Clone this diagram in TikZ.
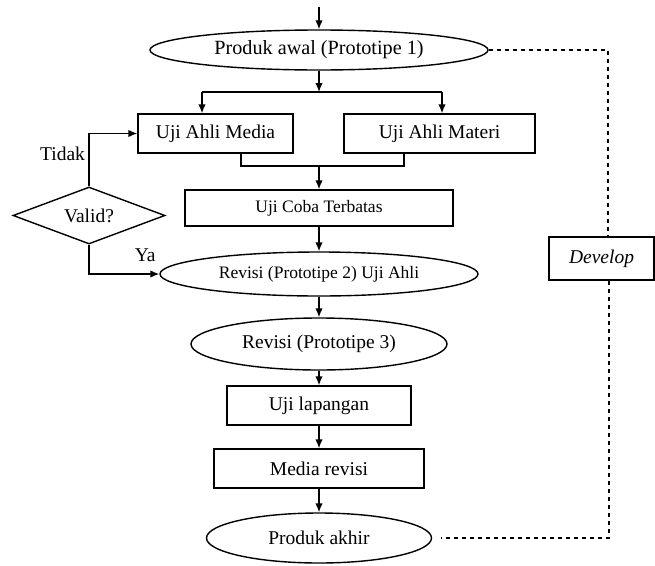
\documentclass[tikz,border=0pt]{standalone}
\usepackage{fontspec}
\setmainfont{Liberation Serif}
\usepackage{tikz}
\usetikzlibrary{calc}
\usetikzlibrary{shapes.geometric,arrows.meta}

\begin{document}
\begin{tikzpicture}[x=1pt,y=-1pt,
        font=\fontsize{19.5}{23}\selectfont,
        kotak/.style={draw, line width=1.4pt, inner sep=0pt},
        elips/.style={draw, ellipse, line width=1.4pt, inner sep=0pt},
        belah/.style={draw, diamond, line width=1.4pt, inner sep=0pt},
        panah/.style={line width=1.4pt, -{Latex[length=9pt,width=7.5pt]}},
        putus/.style={line width=1.4pt, dash pattern=on 4.5pt off 3.5pt}]
        \useasboundingbox (0,0) rectangle (655,565);
        %KOORDINAT
        \coordinate (mulai) at (319,7);
        \coordinate (cabang) at (319,92);
        \coordinate (cabangL) at (202,92);
        \coordinate (cabangR) at (442,92);
        \coordinate (gabungL) at (241,166);
        \coordinate (gabungR) at (404,166);
        \coordinate (gabung) at (319,166);
        \coordinate (putusA) at (608,50);
        \coordinate (putusB) at (609,538);
        %NODE
        \node[elips, minimum width=338pt, minimum height=40pt, font=\fontsize{20.2}{24}\selectfont] (awal) at (319,50) {Produk awal (Prototipe 1)};
        \node[kotak, minimum width=155pt, minimum height=39pt] (media) at (215.5,133.5) {Uji Ahli Media};
        \node[kotak, minimum width=191pt, minimum height=39pt] (materi) at (439.5,133.5) {Uji Ahli Materi};
        \node[kotak, minimum width=268pt, minimum height=36pt, font=\fontsize{17.5}{21}\selectfont] (coba) at (319,208) {Uji Coba Terbatas};
        \node[belah, minimum width=152pt, minimum height=57pt, shape aspect=2.6] (valid) at (89,215.5) {Valid?};
        \node[elips, minimum width=318pt, minimum height=44pt, font=\fontsize{17.5}{21}\selectfont] (rev2) at (319,274) {Revisi (Prototipe 2) Uji Ahli};
        \node[elips, minimum width=256pt, minimum height=52pt] (rev3) at (319,344) {Revisi (Prototipe 3)};
        \node[kotak, minimum width=184pt, minimum height=39pt] (lapangan) at (319,405.5) {Uji lapangan};
        \node[kotak, minimum width=210pt, minimum height=39pt] (revisi) at (319,468.5) {Media revisi};
        \node[elips, minimum width=225pt, minimum height=50pt] (akhir) at (319,538) {Produk akhir};
        \node[kotak, minimum width=105pt, minimum height=43pt] (develop) at (601.5,258.5) {\textit{Develop}};
        %PANAH
        \draw[panah] (mulai) -- (awal);
        \draw[panah] (awal) -- (cabang);
        \draw[line width=1.4pt] (cabangL) -- (cabangR);
        \draw[panah] (cabangL) -- (cabangL |- media.north);
        \draw[panah] (cabangR) -- (cabangR |- materi.north);
        \draw[line width=1.4pt] (gabungL |- media.south) -- (gabungL) -- (gabungR) -- (gabungR |- materi.south);
        \draw[panah] (gabung) -- (coba);
        \draw[panah] (valid.north) |- node[pos=0.31, left]{Tidak} (media.west);
        \draw[panah] (valid.south) |- node[pos=0.9, above=8pt]{Ya} (rev2.west);
        \draw[panah] (coba) -- (rev2);
        \draw[panah] (rev2) -- (rev3);
        \draw[panah] (rev3) -- (lapangan);
        \draw[panah] (lapangan) -- (revisi);
        \draw[panah] (revisi) -- (akhir);
        %GARIS PUTUS
        \draw[putus] (awal.east) -- (putusA) -- (putusA |- develop.north);
        \draw[putus] (putusB |- develop.south) -- (putusB) -- ($(akhir.east)+(9,0)$);
    \end{tikzpicture}
\end{document}
